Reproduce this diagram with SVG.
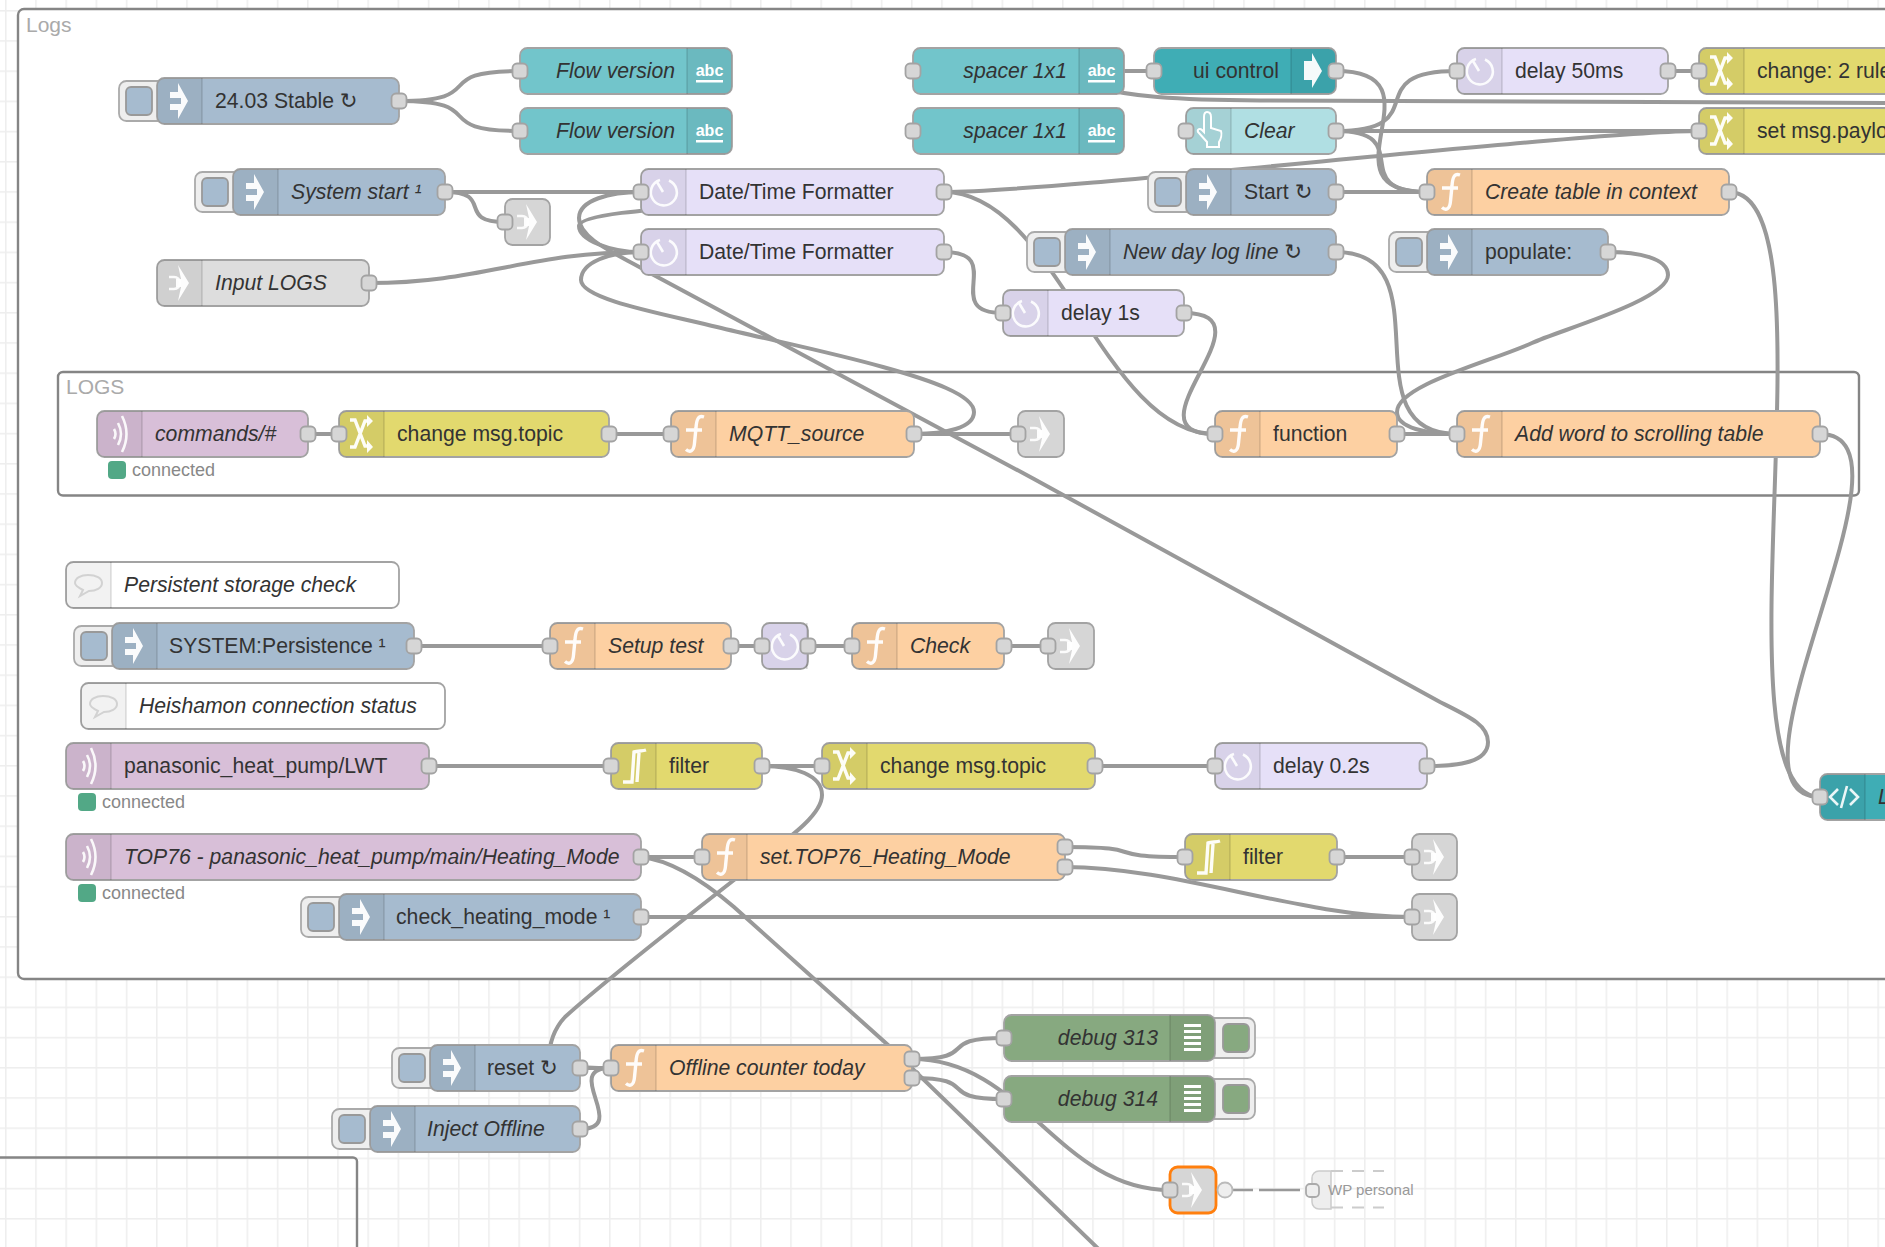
<svg xmlns="http://www.w3.org/2000/svg" width="1885" height="1247" viewBox="0 0 1885 1247">
<style>
text{font-family:"Liberation Sans","DejaVu Sans",sans-serif;font-size:21.2px;fill:#333}
.it{font-style:italic}
.e{text-anchor:end}
.b{rx:7.5px;ry:7.5px;stroke:#a3a3a3;stroke-width:1.8}
.inj{fill:#a6bbcf}.txt{fill:#72c5cb}.fn{fill:#fdd0a2}.ch{fill:#e2d96e}.dl{fill:#e6e0f8}.lk{fill:#d6d6d6}.lki{fill:#ddd}.mq{fill:#d8bfd8}.tpl{fill:#3fadb5}.btn{fill:#b0dfe3}.dbg{fill:#87a980}.cm{fill:#fff}
.grp{fill:#fff;stroke:#858585;stroke-width:2.4}
.gl{fill:#aaa;font-size:21px}
.st{font-size:18px;fill:#888}
.dot{fill:#52a886;rx:4px;ry:4px}
.abc{font-size:16px;font-weight:bold;fill:#fff;text-anchor:middle}
.ic{fill:none;stroke:#fff;stroke-width:2.6;stroke-opacity:.9}
.ib{fill:none;stroke:#fff;stroke-width:3.4;stroke-opacity:.95}
.if{fill:#fff;fill-opacity:.95}
.sh{fill:#000;fill-opacity:.06}
.dv{stroke:#000;stroke-opacity:.13;stroke-width:1.5}
.bo{fill:#eee;stroke:#aaa;stroke-width:1.8;rx:7.5px;ry:7.5px}
.bi{stroke:#999;stroke-width:1.8;rx:5px;ry:5px}
#links path{fill:none;stroke:#999;stroke-width:4}
</style>
<defs>
<pattern id="grid" patternUnits="userSpaceOnUse" x="5" y="10" width="30.2" height="30.2"><rect width="30.2" height="30.2" fill="#fff"/><rect width="1.5" height="30.2" fill="#eee"/><rect width="30.2" height="1.5" fill="#eee"/></pattern>
<rect id="p" x="-7.5" y="-7.5" width="15" height="15" rx="4.5" fill="#d6d6d6" stroke="#a3a3a3" stroke-width="1.8"/>
<g id="sl"><path class="sh" d="M7.5-23H45V23H7.5A7.5 7.5 0 0 1 0 15.5V-15.5A7.5 7.5 0 0 1 7.5-23Z"/><path class="dv" d="M45-23V23"/></g>
<g id="sr"><path class="sh" d="M0-23H37.5A7.5 7.5 0 0 1 45-15.5V15.5A7.5 7.5 0 0 1 37.5 23H0Z"/><path class="dv" d="M0-23V23"/></g>
<g id="i-inj"><use href="#sl"/><path class="if" d="M13-9H21V-18L31 0 21 18V9H13V3H24V-3H13Z"/></g>
<g id="i-dl"><use href="#sl"/><path class="ic" d="M19-12A13 13 0 1 0 28-11.500M22 0 16-10"/></g>
<g id="i-fn"><use href="#sl"/><path class="ib" d="M33-17C27-19 25.500-14 25-6L23.500 9C23 17 19 19 15 15.500M15-4H31"/></g>
<g id="i-ch"><use href="#sl"/><path class="ib" d="M11-14H16L26 12H29M11 13H16L26-13H29"/><path class="if" d="M28-19 34-13 28-7ZM28 6 34 13 28 19Z"/></g>
<g id="i-mq"><use href="#sl"/><path class="ic" d="M17-5Q20 0 17 5M21-11Q27 0 21 11M25-18Q34 0 25 18"/></g>
<g id="g-lk"><path class="if" d="M21-18 32 0 21 18 24 4H19V-4H24Z"/><path class="ic" d="M12-6H17A6 6 0 0 1 17 6H12"/></g>
<g id="i-lk"><use href="#sl"/><use href="#g-lk"/></g>
<g id="i-rb"><use href="#sl"/><path class="ib" d="M12 16H21L23-14C27-15 32-15 35-16M28-13 26 16"/></g>
<g id="i-cm"><path fill="#000" fill-opacity=".05" d="M7.5-23H45V23H7.5A7.500 7.500 0 0 1 0 15.500V-15.500A7.500 7.500 0 0 1 7.500-23Z"/><path class="dv" d="M45-23V23"/><path fill="none" stroke="#d2d2d2" stroke-width="2" d="M22-10C30-10 36-7 36-2S30 6 23 6L14 11 17 5C13 3 9 1 9-2 9-7 15-10 22-10Z"/></g>
<g id="i-db"><use href="#sr"/><path fill="#fff" d="M14-14H31V-11H14ZM14-8H31V-5H14ZM14-2H31V1H14ZM14 4H31V7H14ZM14 10H31V13H14Z"/></g>
</defs>
<rect width="1885" height="1247" fill="url(#grid)"/>
<rect id="group-bottom" x="-10" y="1157.500" width="367" height="120" rx="4" fill="none" stroke="#858585" stroke-width="2.400"/>
<g id="group-Logs"><rect class="grp" x="18" y="9" width="1900" height="970" rx="6"/><text class="gl" x="26" y="32">Logs</text></g>
<g id="group-LOGS"><rect class="grp" x="58" y="372" width="1801" height="123.500" rx="5"/><text class="gl" x="66" y="394">LOGS</text></g>
<g id="links">
<path d="M399 101C492 101 427 71 520 71"/>
<path d="M399 101C492 101 427 131 520 131"/>
<path d="M445 192H641"/>
<path d="M445 192C495 192 455 222 505 222"/>
<path d="M369 283C481 283 529 252 641 252"/>
<path d="M944 192C1056 192 1587 131 1699 131"/>
<path d="M944 192C1056 192 1103 434 1215 434"/>
<path d="M944 252C1008 252 939 313 1003 313"/>
<path d="M1124 71H1154"/>
<path d="M1336 71C1448 71 1315 192 1427 192"/>
<path d="M1336 131C1437 131 1356 71 1457 71"/>
<path d="M1336 131H1699"/>
<path d="M1336 131C1418 131 1345 192 1427 192"/>
<path d="M1336 192H1427"/>
<path d="M1668 71H1699"/>
<path d="M1100 88C1130 96 1170 100 1260 100.500L1900 103"/>
<path d="M1184 313C1278 313 1121 434 1215 434"/>
<path d="M1336 252C1448 252 1345 434 1457 434"/>
<path d="M1608 252C1638 252 1668 258 1668 275C1668 300 1560 330 1532 343C1490 362 1397 385 1397 412C1397 428 1427 434 1457 434"/>
<path d="M1397 434H1457"/>
<path d="M1820 434C1932 434 1708 797 1820 797"/>
<path d="M1729 192C1841 192 1708 797 1820 797"/>
<path d="M308 434H339"/>
<path d="M609 434H671"/>
<path d="M914 434H1018"/>
<path d="M914 434C945 434 974 428 974 412C974 395 930 380 883 367C830 352 770 340 717 327C670 315 581 300 581 280C581 262 610 252 641 252"/>
<path d="M720 205C680 208 580 212 579 226C579 240 610 252 641 252"/>
<path d="M1427 766C1460 766 1488 762 1488 742C1488 725 1470 717 1440 702L1034 479 650 273C620 255 579 240 579 218C579 200 610 192 641 192"/>
<path d="M414 646H550"/>
<path d="M731 646H762"/>
<path d="M808 646H852"/>
<path d="M1004 646H1048"/>
<path d="M429 766H611"/>
<path d="M762 766H822"/>
<path d="M1095 766H1215"/>
<path d="M641 857H702"/>
<path d="M762 766C795 766 822 775 822 795C822 820 770 850 734 880C670 930 600 985 565 1017C553 1030 549 1045 549 1060C549 1066 580 1068 611 1068"/>
<path d="M641 857C670 860 700 878 734 907L888 1045 1112 1262"/>
<path d="M1065 847C1155 847 1095 857 1185 857"/>
<path d="M1065 867C1177 867 1300 917 1412 917"/>
<path d="M641 917H1412"/>
<path d="M1337 857H1412"/>
<path d="M580 1068H611"/>
<path d="M580 1129C631 1129 560 1068 611 1068"/>
<path d="M912 1059C983 1059 933 1038 1004 1038"/>
<path d="M912 1059C1024 1059 1058 1190 1170 1190"/>
<path d="M912 1078C983 1078 933 1099 1004 1099"/>
<path d="M1232 1190H1253M1259 1190H1300" style="stroke-width:2.500"/>
</g>
<g id="n-stable" transform="translate(157,101)"><rect class="bo" x="-38" y="-20" width="48" height="40"/><rect class="bi inj" x="-31" y="-14" width="26" height="28"/><rect class="b inj" y="-23" width="242" height="46"/><use href="#i-inj"/><text x="58" y="7">24.03 Stable ↻</text><use href="#p" x="242"/></g>
<g id="n-fv1" transform="translate(520,71)"><rect class="b txt" y="-23" width="212" height="46"/><use href="#sr" x="167"/><text class="abc" x="189.500" y="5">abc</text><rect x="176" y="9" width="27" height="2.500" fill="#fff"/><text class="it e" x="155" y="7">Flow version</text><use href="#p"/></g>
<g id="n-fv2" transform="translate(520,131)"><rect class="b txt" y="-23" width="212" height="46"/><use href="#sr" x="167"/><text class="abc" x="189.500" y="5">abc</text><rect x="176" y="9" width="27" height="2.500" fill="#fff"/><text class="it e" x="155" y="7">Flow version</text><use href="#p"/></g>
<g id="n-sysstart" transform="translate(233,192)"><rect class="bo" x="-38" y="-20" width="48" height="40"/><rect class="bi inj" x="-31" y="-14" width="26" height="28"/><rect class="b inj" y="-23" width="212" height="46"/><use href="#i-inj"/><text class="it" x="58" y="7">System start ¹</text><use href="#p" x="212"/></g>
<g id="n-linkS" transform="translate(505,222)"><rect class="b lk" y="-23" width="45" height="46"/><use href="#g-lk"/><use href="#p"/></g>
<g id="n-dtf1" transform="translate(641,192)"><rect class="b dl" y="-23" width="303" height="46"/><use href="#i-dl"/><text x="58" y="7">Date/Time Formatter</text><use href="#p"/><use href="#p" x="303"/></g>
<g id="n-dtf2" transform="translate(641,252)"><rect class="b dl" y="-23" width="303" height="46"/><use href="#i-dl"/><text x="58" y="7">Date/Time Formatter</text><use href="#p"/><use href="#p" x="303"/></g>
<g id="n-inputlogs" transform="translate(157,283)"><rect class="b lki" y="-23" width="212" height="46"/><use href="#i-lk"/><text class="it" x="58" y="7">Input LOGS</text><use href="#p" x="212"/></g>
<g id="n-sp1" transform="translate(913,71)"><rect class="b txt" y="-23" width="211" height="46"/><use href="#sr" x="166"/><text class="abc" x="188.500" y="5">abc</text><rect x="175" y="9" width="27" height="2.500" fill="#fff"/><text class="it e" x="154" y="7">spacer 1x1</text><use href="#p"/></g>
<g id="n-sp2" transform="translate(913,131)"><rect class="b txt" y="-23" width="211" height="46"/><use href="#sr" x="166"/><text class="abc" x="188.500" y="5">abc</text><rect x="175" y="9" width="27" height="2.500" fill="#fff"/><text class="it e" x="154" y="7">spacer 1x1</text><use href="#p"/></g>
<g id="n-uictl" transform="translate(1154,71)"><rect class="b tpl" y="-23" width="182" height="46"/><use href="#sr" x="137"/><path class="if" d="M150-10H158V-18L168 0 158 17V9H150Z"/><text class="e" x="125" y="7">ui control</text><use href="#p"/><use href="#p" x="182"/></g>
<g id="n-clear" transform="translate(1186,131)"><rect class="b btn" y="-23" width="150" height="46"/><use href="#sl"/><path fill="none" stroke="#fff" stroke-width="2" d="M21-19C25-19 25-16 25-14V-3L35 0C36 3 35 8 33 11V16H21V11L12 1C11-2 14-3 16-1L18 1V-14C18-17 19-19 21-19Z"/><text class="it" x="58" y="7">Clear</text><use href="#p"/><use href="#p" x="150"/></g>
<g id="n-delay50" transform="translate(1457,71)"><rect class="b dl" y="-23" width="211" height="46"/><use href="#i-dl"/><text x="58" y="7">delay 50ms</text><use href="#p"/><use href="#p" x="211"/></g>
<g id="n-chg2" transform="translate(1699,71)"><rect class="b ch" y="-23" width="300" height="46"/><use href="#i-ch"/><text x="58" y="7">change: 2 rules</text><use href="#p"/></g>
<g id="n-setpay" transform="translate(1699,131)"><rect class="b ch" y="-23" width="300" height="46"/><use href="#i-ch"/><text x="58" y="7">set msg.payload</text><use href="#p"/></g>
<g id="n-start" transform="translate(1186,192)"><rect class="bo" x="-38" y="-20" width="48" height="40"/><rect class="bi inj" x="-31" y="-14" width="26" height="28"/><rect class="b inj" y="-23" width="150" height="46"/><use href="#i-inj"/><text x="58" y="7">Start ↻</text><use href="#p" x="150"/></g>
<g id="n-create" transform="translate(1427,192)"><rect class="b fn" y="-23" width="302" height="46"/><use href="#i-fn"/><text class="it" x="58" y="7">Create table in context</text><use href="#p"/><use href="#p" x="302"/></g>
<g id="n-newday" transform="translate(1065,252)"><rect class="bo" x="-38" y="-20" width="48" height="40"/><rect class="bi inj" x="-31" y="-14" width="26" height="28"/><rect class="b inj" y="-23" width="271" height="46"/><use href="#i-inj"/><text class="it" x="58" y="7">New day log line ↻</text><use href="#p" x="271"/></g>
<g id="n-populate" transform="translate(1427,252)"><rect class="bo" x="-38" y="-20" width="48" height="40"/><rect class="bi inj" x="-31" y="-14" width="26" height="28"/><rect class="b inj" y="-23" width="181" height="46"/><use href="#i-inj"/><text x="58" y="7">populate:</text><use href="#p" x="181"/></g>
<g id="n-delay1" transform="translate(1003,313)"><rect class="b dl" y="-23" width="181" height="46"/><use href="#i-dl"/><text x="58" y="7">delay 1s</text><use href="#p"/><use href="#p" x="181"/></g>
<g id="n-function" transform="translate(1215,434)"><rect class="b fn" y="-23" width="182" height="46"/><use href="#i-fn"/><text x="58" y="7">function</text><use href="#p"/><use href="#p" x="182"/></g>
<g id="n-addword" transform="translate(1457,434)"><rect class="b fn" y="-23" width="363" height="46"/><use href="#i-fn"/><text class="it" x="58" y="7">Add word to scrolling table</text><use href="#p"/><use href="#p" x="363"/></g>
<g id="n-logs" transform="translate(1820,797)"><rect class="b tpl" y="-23" width="130" height="46"/><use href="#sl"/><path class="ic" d="M18-8 10 0 18 8M30-8 38 0 30 8M27-11 21 11"/><text class="it" x="58" y="7">L</text><use href="#p"/></g>
<g id="n-commands" transform="translate(97,434)"><rect class="b mq" y="-23" width="211" height="46"/><use href="#i-mq"/><text class="it" x="58" y="7">commands/#</text><use href="#p" x="211"/><rect class="dot" x="11" y="27" width="18" height="18"/><text class="st" x="35" y="42">connected</text></g>
<g id="n-chgtopic1" transform="translate(339,434)"><rect class="b ch" y="-23" width="270" height="46"/><use href="#i-ch"/><text x="58" y="7">change msg.topic</text><use href="#p"/><use href="#p" x="270"/></g>
<g id="n-mqttsrc" transform="translate(671,434)"><rect class="b fn" y="-23" width="243" height="46"/><use href="#i-fn"/><text class="it" x="58" y="7">MQTT_source</text><use href="#p"/><use href="#p" x="243"/></g>
<g id="n-link1" transform="translate(1018,434)"><rect class="b lk" y="-23" width="46" height="46"/><use href="#g-lk"/><use href="#p"/></g>
<g id="n-cm1" transform="translate(66,585)"><rect class="b cm" y="-23" width="333" height="46"/><use href="#i-cm"/><text class="it" x="58" y="7">Persistent storage check</text></g>
<g id="n-syspers" transform="translate(112,646)"><rect class="bo" x="-38" y="-20" width="48" height="40"/><rect class="bi inj" x="-31" y="-14" width="26" height="28"/><rect class="b inj" y="-23" width="302" height="46"/><use href="#i-inj"/><text x="57" y="7">SYSTEM:Persistence ¹</text><use href="#p" x="302"/></g>
<g id="n-setup" transform="translate(550,646)"><rect class="b fn" y="-23" width="181" height="46"/><use href="#i-fn"/><text class="it" x="58" y="7">Setup test</text><use href="#p"/><use href="#p" x="181"/></g>
<g id="n-delaym" transform="translate(762,646)"><rect class="b dl" y="-23" width="46" height="46"/><use href="#i-dl"/><use href="#p"/><use href="#p" x="46"/></g>
<g id="n-check" transform="translate(852,646)"><rect class="b fn" y="-23" width="152" height="46"/><use href="#i-fn"/><text class="it" x="58" y="7">Check</text><use href="#p"/><use href="#p" x="152"/></g>
<g id="n-link2" transform="translate(1048,646)"><rect class="b lk" y="-23" width="46" height="46"/><use href="#g-lk"/><use href="#p"/></g>
<g id="n-cm2" transform="translate(81,706)"><rect class="b cm" y="-23" width="364" height="46"/><use href="#i-cm"/><text class="it" x="58" y="7">Heishamon connection status</text></g>
<g id="n-lwt" transform="translate(66,766)"><rect class="b mq" y="-23" width="363" height="46"/><use href="#i-mq"/><text x="58" y="7">panasonic_heat_pump/LWT</text><use href="#p" x="363"/><rect class="dot" x="12" y="27" width="18" height="18"/><text class="st" x="36" y="42">connected</text></g>
<g id="n-filter1" transform="translate(611,766)"><rect class="b ch" y="-23" width="151" height="46"/><use href="#i-rb"/><text x="58" y="7">filter</text><use href="#p"/><use href="#p" x="151"/></g>
<g id="n-chgtopic2" transform="translate(822,766)"><rect class="b ch" y="-23" width="273" height="46"/><use href="#i-ch"/><text x="58" y="7">change msg.topic</text><use href="#p"/><use href="#p" x="273"/></g>
<g id="n-delay02" transform="translate(1215,766)"><rect class="b dl" y="-23" width="212" height="46"/><use href="#i-dl"/><text x="58" y="7">delay 0.2s</text><use href="#p"/><use href="#p" x="212"/></g>
<g id="n-top76" transform="translate(66,857)"><rect class="b mq" y="-23" width="575" height="46"/><use href="#i-mq"/><text class="it" x="58" y="7">TOP76 - panasonic_heat_pump/main/Heating_Mode</text><use href="#p" x="575"/><rect class="dot" x="12" y="27" width="18" height="18"/><text class="st" x="36" y="42">connected</text></g>
<g id="n-settop76" transform="translate(702,857)"><rect class="b fn" y="-23" width="363" height="46"/><use href="#i-fn"/><text class="it" x="58" y="7">set.TOP76_Heating_Mode</text><use href="#p"/><use href="#p" x="363" y="-10"/><use href="#p" x="363" y="10"/></g>
<g id="n-filter2" transform="translate(1185,857)"><rect class="b ch" y="-23" width="152" height="46"/><use href="#i-rb"/><text x="58" y="7">filter</text><use href="#p"/><use href="#p" x="152"/></g>
<g id="n-linkA" transform="translate(1412,857)"><rect class="b lk" y="-23" width="45" height="46"/><use href="#g-lk"/><use href="#p"/></g>
<g id="n-checkhm" transform="translate(339,917)"><rect class="bo" x="-38" y="-20" width="48" height="40"/><rect class="bi inj" x="-31" y="-14" width="26" height="28"/><rect class="b inj" y="-23" width="302" height="46"/><use href="#i-inj"/><text x="57" y="7">check_heating_mode ¹</text><use href="#p" x="302"/></g>
<g id="n-linkB" transform="translate(1412,917)"><rect class="b lk" y="-23" width="45" height="46"/><use href="#g-lk"/><use href="#p"/></g>
<g id="n-reset" transform="translate(430,1068)"><rect class="bo" x="-38" y="-20" width="48" height="40"/><rect class="bi inj" x="-31" y="-14" width="26" height="28"/><rect class="b inj" y="-23" width="150" height="46"/><use href="#i-inj"/><text x="57" y="7">reset ↻</text><use href="#p" x="150"/></g>
<g id="n-offline" transform="translate(611,1068)"><rect class="b fn" y="-23" width="301" height="46"/><use href="#i-fn"/><text class="it" x="58" y="7">Offline counter today</text><use href="#p"/><use href="#p" x="301" y="-9"/><use href="#p" x="301" y="10"/></g>
<g id="n-injoff" transform="translate(370,1129)"><rect class="bo" x="-38" y="-20" width="48" height="40"/><rect class="bi inj" x="-31" y="-14" width="26" height="28"/><rect class="b inj" y="-23" width="210" height="46"/><use href="#i-inj"/><text class="it" x="57" y="7">Inject Offline</text><use href="#p" x="210"/></g>
<g id="n-d313" transform="translate(1004,1038)"><rect class="bo" x="201" y="-20" width="50" height="40"/><rect class="bi dbg" x="219" y="-14" width="26" height="28"/><rect class="b dbg" y="-23" width="211" height="46"/><use href="#i-db" x="166"/><text class="it e" x="154" y="7">debug 313</text><use href="#p"/></g>
<g id="n-d314" transform="translate(1004,1099)"><rect class="bo" x="201" y="-20" width="50" height="40"/><rect class="bi dbg" x="219" y="-14" width="26" height="28"/><rect class="b dbg" y="-23" width="211" height="46"/><use href="#i-db" x="166"/><text class="it e" x="154" y="7">debug 314</text><use href="#p"/></g>
<g id="n-linkO" transform="translate(1170,1190)"><rect class="b lk" y="-23" width="46" height="46" style="stroke:#ff7f0e;stroke-width:2.800"/><use href="#g-lk"/><use href="#p"/><circle cx="55" r="7.500" fill="#eee" stroke="#bbb" stroke-width="1.800"/></g>
<g id="n-ghost" transform="translate(1312,1190)"><path d="M19-19H7A7 7 0 0 0 0-12V12A7 7 0 0 0 7 19H19Z" fill="#eee" stroke="#ccc" stroke-width="1.500"/><path d="M19-19H72M19 17.500H72" fill="none" stroke="#ccc" stroke-width="2" stroke-dasharray="12 9"/><rect x="-6" y="-6" width="13" height="13" rx="4" fill="#eee" stroke="#aaa" stroke-width="1.800"/><text x="16" y="5" style="font-size:15px;fill:#999">WP personal</text></g>
</svg>
